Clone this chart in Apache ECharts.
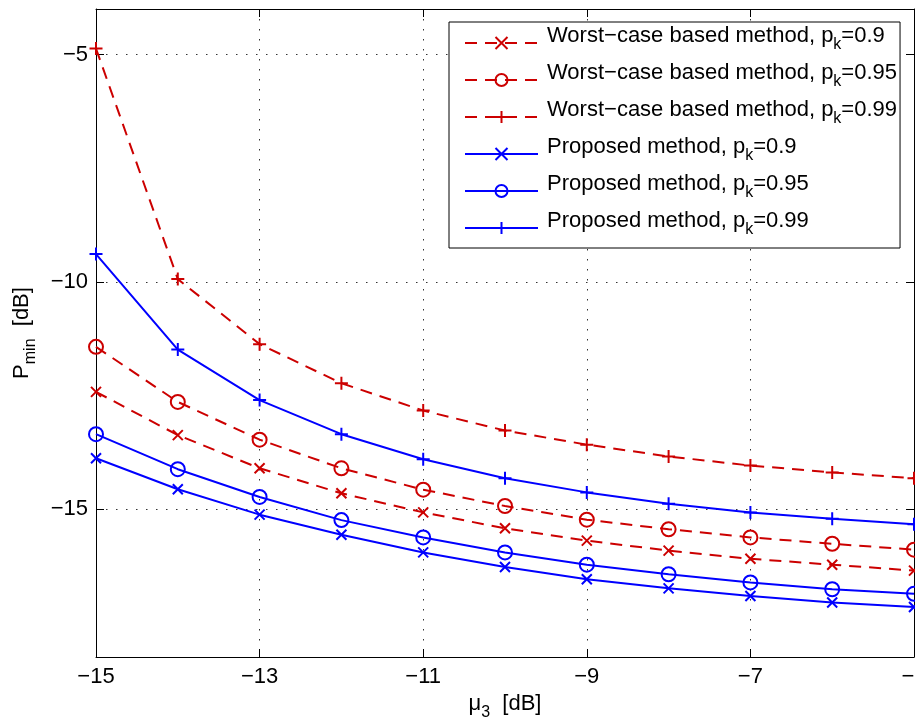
<!DOCTYPE html>
<html>
<head>
<meta charset="utf-8">
<script src="https://cdn.jsdelivr.net/npm/echarts@6/dist/echarts.min.js"></script>
<style>html,body{margin:0;padding:0;background:#fff}#c{width:915px;height:718px}</style>
</head>
<body>
<div id="c"></div>
<script>
// ---- data ----
const xValues = [-15, -14, -13, -12, -11, -10, -9, -8, -7, -6, -5];
const worst09  = [-12.42, -13.37, -14.10, -14.65, -15.07, -15.42, -15.69, -15.91, -16.09, -16.22, -16.35];
const worst095 = [-11.43, -12.64, -13.47, -14.10, -14.57, -14.93, -15.23, -15.44, -15.62, -15.76, -15.89];
const worst099 = [-4.87, -9.94, -11.37, -12.23, -12.83, -13.27, -13.58, -13.84, -14.04, -14.19, -14.32];
const prop09   = [-13.88, -14.56, -15.12, -15.56, -15.95, -16.27, -16.54, -16.74, -16.91, -17.05, -17.15];
const prop095  = [-13.35, -14.12, -14.73, -15.24, -15.62, -15.95, -16.22, -16.43, -16.61, -16.76, -16.86];
const prop099  = [-9.39, -11.49, -12.60, -13.35, -13.90, -14.32, -14.63, -14.88, -15.07, -15.21, -15.33];
const xTicks = [-15, -13, -11, -9, -7, -5];
const yTicks = [-15, -10, -5];
const seriesNames = [
  'Worst−case based method, pk=0.9',
  'Worst−case based method, pk=0.95',
  'Worst−case based method, pk=0.99',
  'Proposed method, pk=0.9',
  'Proposed method, pk=0.95',
  'Proposed method, pk=0.99'
];
const legendPrefix = ['Worst−case based method, p', 'Worst−case based method, p', 'Worst−case based method, p',
  'Proposed method, p', 'Proposed method, p', 'Proposed method, p'];
const legendPk = ['0.9', '0.95', '0.99', '0.9', '0.95', '0.99'];
const seriesValues = [worst09, worst095, worst099, prop09, prop095, prop099];

// ---- style ----
const RED = '#cc0000', BLUE = '#0000ff';
const FONT = 'Liberation Sans';
const CROSS = 'path://M0,0L10,10M10,0L0,10';
const PLUS = 'path://M5,0L5,10M0,5L10,5';
const styles = [
  {c: RED, dash: [12, 8], sym: CROSS, size: 10},
  {c: RED, dash: [12, 8], sym: 'circle', size: 14},
  {c: RED, dash: [12, 8], sym: PLUS, size: 13},
  {c: BLUE, dash: 'solid', sym: CROSS, size: 10},
  {c: BLUE, dash: 'solid', sym: 'circle', size: 14},
  {c: BLUE, dash: 'solid', sym: PLUS, size: 13}
];

const rich = {
  a: {fontFamily: FONT, fontSize: 22, color: '#000', lineHeight: 22, verticalAlign: 'top'},
  s: {fontFamily: FONT, fontSize: 16, color: '#000', lineHeight: 28, verticalAlign: 'bottom'}
};

const fmtMinus = v => String(v).replace('-', '−');

const series = seriesValues.map((vals, i) => ({
  name: seriesNames[i],
  type: 'line',
  data: xValues.map((x, j) => [x, vals[j]]),
  symbol: styles[i].sym,
  symbolSize: styles[i].size,
  showAllSymbol: true,
  lineStyle: {color: styles[i].c, width: 2, type: styles[i].dash},
  itemStyle: {color: 'rgba(0,0,0,0)', borderColor: styles[i].c, borderWidth: 2},
  emphasis: {disabled: true},
  z: 3
}));

const chart = echarts.init(document.getElementById('c'), null, {renderer: 'canvas'});
const axisLineStyle = {show: true, onZero: false, lineStyle: {color: '#000', width: 1}};
const tickStyle = {show: true, inside: true, length: 8, lineStyle: {color: '#000', width: 1}};
chart.setOption({
  animation: false,
  backgroundColor: '#fff',
  grid: {left: 96, right: 1, top: 9, bottom: 61, containLabel: false, outerBoundsMode: 'none'},
  xAxis: [{
    type: 'value', min: -15, max: -5, position: 'bottom',
    axisLine: axisLineStyle,
    axisTick: Object.assign({customValues: xTicks}, tickStyle),
    axisLabel: {customValues: xTicks, formatter: fmtMinus, fontFamily: FONT, fontSize: 22, color: '#000', margin: 9, hideOverlap: false},
    splitLine: {show: true, lineStyle: {color: '#333', width: 1, type: [1.5, 8.5]}},
    name: '{a|μ}{s|3}{a|  [dB]}', nameLocation: 'middle', nameGap: 27,
    nameTextStyle: {rich: rich}
  }, {
    type: 'value', min: -15, max: -5, position: 'top',
    axisLine: axisLineStyle,
    axisTick: Object.assign({customValues: xTicks}, tickStyle),
    axisLabel: {show: false}, splitLine: {show: false}
  }],
  yAxis: [{
    type: 'value', min: -18.25, max: -4, position: 'left',
    axisLine: axisLineStyle,
    axisTick: Object.assign({customValues: yTicks}, tickStyle),
    axisLabel: {customValues: yTicks, formatter: fmtMinus, fontFamily: FONT, fontSize: 22, color: '#000', margin: 8},
    splitLine: {show: true, lineStyle: {color: '#333', width: 1, type: [1.5, 8.5]}},
    name: '{a|P}{s|min}{a|  [dB]}', nameLocation: 'middle', nameGap: 57, nameRotate: 90,
    nameTextStyle: {rich: rich}
  }, {
    type: 'value', min: -18.25, max: -4, position: 'right',
    axisLine: axisLineStyle,
    axisTick: Object.assign({customValues: yTicks}, tickStyle),
    axisLabel: {show: false}, splitLine: {show: false}
  }],
  legend: {
    orient: 'vertical', left: 449, top: 22,
    data: seriesNames,
    backgroundColor: '#fff', borderColor: '#000', borderWidth: 1,
    padding: [3, 3, 10, 15], itemGap: 9, itemWidth: 73, itemHeight: 15,
    selectedMode: false,
    formatter: name => {
      const i = seriesNames.indexOf(name);
      return '{a|' + legendPrefix[i] + '}{s|k}{a|=' + legendPk[i] + '}';
    },
    textStyle: {rich: rich, padding: [0, 0, 8, 4]}
  },
  series: series
});
</script>
</body>
</html>
